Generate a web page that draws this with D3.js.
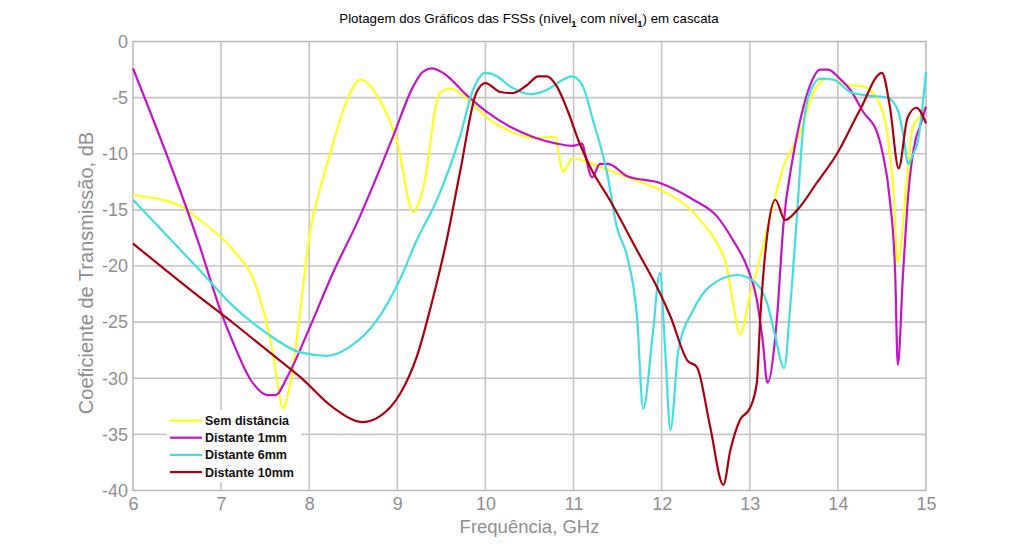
<!DOCTYPE html>
<html>
<head>
<meta charset="utf-8">
<script src="https://cdn.jsdelivr.net/npm/d3@7/dist/d3.min.js"></script>
<style>
  html, body { margin: 0; padding: 0; background: #ffffff; }
  svg { display: block; }
</style>
</head>
<body>
<svg id="chart" width="1023" height="552"></svg>
<script>
// ---- Data ----
const xTicks = [6, 7, 8, 9, 10, 11, 12, 13, 14, 15];
const yTicks = [0, -5, -10, -15, -20, -25, -30, -35, -40];

const seriesNames = ["Sem distância", "Distante 1mm", "Distante 6mm", "Distante 10mm"];
const seriesColors = ["#ffff1a", "#c414c4", "#3fe0e0", "#aa0010"];

const semDistFreq = [6.00, 6.53, 6.76, 6.99, 7.14, 7.41, 7.56, 7.65, 7.70, 7.79, 7.90, 7.98, 8.05, 8.09, 8.24, 8.43, 8.58, 8.80, 9.00, 9.18, 9.29, 9.48, 9.60, 9.83, 10.02, 10.28, 10.54, 10.79, 10.88, 10.99, 11.15, 11.38, 11.68, 11.98, 12.29, 12.47, 12.63, 12.74, 12.81, 12.89, 13.00, 13.12, 13.26, 13.38, 13.57, 13.72, 13.88, 14.14, 14.29, 14.45, 14.56, 14.63, 14.68, 14.78, 14.85, 14.93, 15.00];
const semDistDb   = [-13.7, -14.6, -15.9, -17.4, -18.6, -22.1, -26.6, -30.8, -32.7, -30.2, -23.9, -18.6, -15.3, -14.1, -9.9, -5.2, -3.4, -5.2, -9.0, -15.2, -13.2, -4.6, -4.2, -5.4, -6.8, -8.0, -8.6, -8.5, -11.6, -10.4, -10.7, -11.4, -12.3, -13.2, -14.7, -16.2, -18.0, -20.1, -23.3, -26.1, -22.7, -19.2, -14.7, -11.2, -8.2, -4.6, -3.3, -3.9, -4.0, -5.2, -8.2, -13.2, -19.7, -12.6, -7.6, -6.7, -5.8];

const dist1Freq = [6.00, 6.76, 6.99, 7.14, 7.34, 7.53, 7.62, 7.75, 8.01, 8.27, 8.54, 8.95, 9.18, 9.29, 9.39, 9.52, 9.79, 10.02, 10.28, 10.54, 10.81, 10.99, 11.10, 11.13, 11.21, 11.30, 11.39, 11.61, 11.98, 12.36, 12.63, 12.81, 12.97, 13.08, 13.15, 13.20, 13.31, 13.38, 13.49, 13.61, 13.68, 13.80, 13.89, 14.02, 14.14, 14.29, 14.45, 14.51, 14.59, 14.65, 14.68, 14.74, 14.80, 14.88, 14.93, 15.00];
const dist1Db   = [-2.4, -18.3, -23.9, -26.9, -30.2, -31.5, -31.5, -29.9, -25.4, -20.6, -16.2, -8.5, -4.0, -2.7, -2.4, -2.8, -4.8, -6.3, -7.6, -8.5, -9.1, -9.3, -9.1, -10.0, -12.1, -10.9, -10.9, -12.0, -12.6, -14.1, -15.6, -17.7, -20.1, -23.0, -26.9, -30.4, -24.5, -16.5, -10.3, -5.8, -4.0, -2.5, -2.5, -3.3, -4.3, -6.3, -8.2, -10.0, -14.1, -20.6, -28.8, -20.6, -13.5, -8.8, -7.6, -5.8];

const dist6Freq = [6.00, 6.76, 7.14, 7.52, 7.90, 8.20, 8.46, 8.77, 9.03, 9.22, 9.45, 9.71, 9.86, 10.00, 10.13, 10.28, 10.51, 10.70, 10.88, 10.98, 11.10, 11.22, 11.38, 11.49, 11.61, 11.72, 11.79, 11.90, 11.98, 12.04, 12.10, 12.19, 12.36, 12.55, 12.86, 13.08, 13.20, 13.29, 13.39, 13.46, 13.54, 13.60, 13.68, 13.80, 13.95, 14.14, 14.33, 14.56, 14.68, 14.74, 14.80, 14.85, 14.91, 14.96, 15.00];
const dist6Db   = [-14.1, -20.4, -23.6, -26.0, -27.7, -28.0, -27.2, -24.8, -21.2, -17.7, -14.1, -8.5, -4.3, -2.8, -3.1, -4.0, -4.7, -4.3, -3.4, -3.1, -3.9, -7.0, -11.7, -16.5, -19.2, -24.5, -32.7, -26.0, -20.6, -27.5, -34.6, -27.5, -23.9, -21.8, -20.8, -21.6, -23.4, -26.3, -29.1, -23.5, -15.0, -8.2, -4.6, -3.3, -3.4, -4.5, -4.8, -5.0, -6.1, -8.2, -10.9, -10.1, -8.8, -5.8, -2.7];

const dist10Freq = [6.00, 6.76, 7.14, 7.52, 7.90, 8.27, 8.61, 8.80, 9.03, 9.22, 9.40, 9.56, 9.71, 9.90, 10.00, 10.17, 10.31, 10.47, 10.60, 10.70, 10.81, 10.93, 11.07, 11.19, 11.41, 11.72, 11.98, 12.10, 12.29, 12.40, 12.55, 12.70, 12.78, 12.89, 13.00, 13.08, 13.12, 13.20, 13.29, 13.40, 13.54, 13.76, 13.99, 14.25, 14.50, 14.59, 14.69, 14.79, 14.89, 15.00];
const dist10Db   = [-18.0, -22.8, -25.1, -27.5, -29.9, -32.6, -33.9, -33.4, -31.4, -28.1, -23.0, -17.7, -11.7, -4.5, -3.7, -4.5, -4.6, -3.9, -3.1, -3.1, -4.0, -6.1, -9.1, -11.2, -14.1, -18.6, -22.4, -24.5, -28.4, -29.0, -34.3, -39.5, -36.4, -33.7, -32.7, -30.4, -24.5, -17.1, -14.1, -15.9, -15.0, -12.6, -10.0, -6.1, -2.8, -5.8, -11.3, -6.8, -5.9, -7.3];

const seriesFreq = [semDistFreq, dist1Freq, dist6Freq, dist10Freq];
const seriesDb = [semDistDb, dist1Db, dist6Db, dist10Db];

// ---- Layout ----
const svg = d3.select("#chart");
const pL = 133, pR = 926, pT = 41.5, pB = 490.5;
const FONT = "'Liberation Sans', Arial, Helvetica, sans-serif";
const grayText = "#8f8f8f";

const x = d3.scaleLinear().domain([6, 15]).range([pL, pR]);
const y = d3.scaleLinear().domain([-40, 0]).range([pB, pT]);

// grid
const grid = svg.append("g");
grid.selectAll("line.vx").data(xTicks.slice(1, -1)).join("line")
  .attr("x1", d => x(d)).attr("x2", d => x(d))
  .attr("y1", pT).attr("y2", pB)
  .attr("stroke", "#c6c6c6").attr("stroke-width", 1.6);
grid.selectAll("line.hy").data(yTicks.slice(1, -1)).join("line")
  .attr("x1", pL).attr("x2", pR)
  .attr("y1", d => y(d)).attr("y2", d => y(d))
  .attr("stroke", "#c6c6c6").attr("stroke-width", 1.6);

// box
svg.append("rect")
  .attr("x", pL).attr("y", pT)
  .attr("width", pR - pL).attr("height", pB - pT)
  .attr("fill", "none").attr("stroke", "#b4b4b4").attr("stroke-width", 1.4);

// axes (labels only)
const xAxis = d3.axisBottom(x).tickValues(xTicks).tickSize(0).tickPadding(7).tickFormat(d3.format("d"));
const gx = svg.append("g").attr("transform", `translate(0,${pB})`).call(xAxis);
gx.select(".domain").remove();
gx.selectAll("text").attr("font-family", FONT).attr("font-size", 18).attr("fill", grayText);

const yAxis = d3.axisLeft(y).tickValues(yTicks).tickSize(0).tickPadding(5).tickFormat(d => String(d));
const gy = svg.append("g").attr("transform", `translate(${pL},0)`).call(yAxis);
gy.select(".domain").remove();
gy.selectAll("text").attr("font-family", FONT).attr("font-size", 18).attr("fill", grayText);

// lines
const line = d3.line().x(d => x(d[0])).y(d => y(d[1])).curve(d3.curveMonotoneX);
const plot = svg.append("g");
seriesFreq.forEach((fr, i) => {
  const pts = fr.map((f, j) => [f, seriesDb[i][j]]);
  plot.append("path").datum(pts)
    .attr("d", line)
    .attr("fill", "none")
    .attr("stroke", seriesColors[i])
    .attr("stroke-width", 2.2)
    .attr("stroke-linejoin", "round");
});

// legend
const lg = svg.append("g");
lg.append("rect").attr("x", 167).attr("y", 410).attr("width", 134).attr("height", 72)
  .attr("fill", "#ffffff");
seriesNames.forEach((name, i) => {
  const yy = 420.5 + i * 17.2;
  lg.append("line").attr("x1", 170).attr("x2", 202).attr("y1", yy).attr("y2", yy)
    .attr("stroke", seriesColors[i]).attr("stroke-width", 2.2);
  lg.append("text").attr("x", 205).attr("y", yy + 4.5)
    .attr("font-family", FONT).attr("font-size", 12.5).attr("font-weight", "bold")
    .attr("fill", "#111").text(name);
});

// title
const title = svg.append("text").attr("x", 529).attr("y", 23).attr("text-anchor", "middle")
  .attr("font-family", FONT).attr("font-size", 13.3).attr("fill", "#000");
title.append("tspan").text("Plotagem dos Gráficos das FSSs (nível");
title.append("tspan").attr("dy", 4).attr("font-size", 9.5).attr("font-weight", "bold").text("1");
title.append("tspan").attr("dy", -4).text(" com nível");
title.append("tspan").attr("dy", 4).attr("font-size", 9.5).attr("font-weight", "bold").text("1");
title.append("tspan").attr("dy", -4).text(") em cascata");

// axis titles
svg.append("text").attr("x", (pL + pR) / 2).attr("y", 533).attr("text-anchor", "middle")
  .attr("font-family", FONT).attr("font-size", 18.5).attr("fill", grayText).text("Frequência, GHz");
svg.append("text").attr("transform", `translate(93,${273}) rotate(-90)`).attr("text-anchor", "middle")
  .attr("font-family", FONT).attr("font-size", 20).attr("fill", grayText).text("Coeficiente de Transmissão, dB");
</script>
</body>
</html>
